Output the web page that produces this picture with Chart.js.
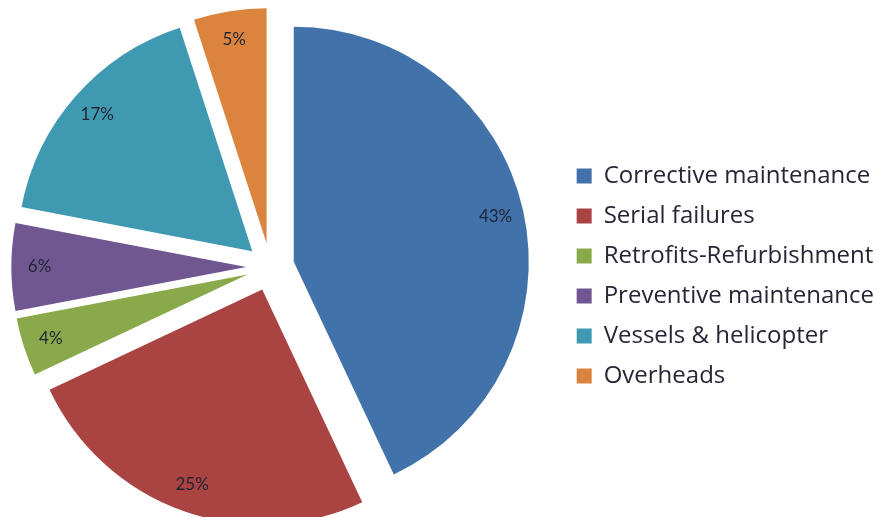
<!DOCTYPE html>
<html>
<head>
<meta charset="utf-8">
<script src="https://cdn.jsdelivr.net/npm/chart.js@4.4.1/dist/chart.umd.min.js"></script>
<style>
  html, body { margin: 0; padding: 0; background: #fff; overflow: hidden; }
  #myChart { display: block; margin-left: -20px; }
</style>
</head>
<body>
<canvas id="myChart" width="897" height="517"></canvas>
<script>
const labels = ['Corrective maintenance', 'Serial failures', 'Retrofits-Refurbishment',
    'Preventive maintenance', 'Vessels & helicopter', 'Overheads'];
const shares = [43, 25, 4, 6, 17, 5];
const colors = ['#4172a9', '#a94442', '#8aa94b', '#715792', '#3f99b0', '#db843e'];

const explode = 24;

// push every slice out from the centre along its middle angle
const ArcElement = Chart.ArcElement || Chart.elements.ArcElement;
const baseDraw = ArcElement.prototype.draw;
ArcElement.prototype.draw = function (ctx) {
    const mid = (this.startAngle + this.endAngle) / 2;
    ctx.save();
    ctx.translate(Math.cos(mid) * explode, Math.sin(mid) * explode);
    baseDraw.call(this, ctx);
    ctx.restore();
};

// percentage labels near the rim of each slice
const sliceLabels = {
    id: 'sliceLabels',
    afterDatasetsDraw(chart) {
        const ctx = chart.ctx;
        const meta = chart.getDatasetMeta(0);
        ctx.save();
        ctx.font = '17px Lato, "Open Sans", sans-serif';
        ctx.fillStyle = '#1f2433';
        ctx.textAlign = 'center';
        ctx.textBaseline = 'middle';
        meta.data.forEach(function (arc, i) {
            const p = arc.getProps(['x', 'y', 'startAngle', 'endAngle', 'outerRadius'], true);
            const mid = (p.startAngle + p.endAngle) / 2;
            const r = explode + p.outerRadius * 0.88;
            ctx.fillText(shares[i] + '%', p.x + Math.cos(mid) * r, p.y + Math.sin(mid) * r);
        });
        ctx.restore();
    }
};

new Chart(document.getElementById('myChart').getContext('2d'), {
    type: 'pie',
    data: {
        labels: labels,
        datasets: [{
            data: shares,
            backgroundColor: colors,
            borderWidth: 0
        }]
    },
    options: {
        responsive: false,
        animation: false,
        radius: 235,
        layout: {
            padding: { left: 0, right: -7, top: 17, bottom: 0 }
        },
        plugins: {
            tooltip: { enabled: false },
            legend: {
                position: 'right',
                // empty title only nudges the entries down a little
                title: { display: true, text: ' ', color: 'rgba(0,0,0,0)',
                    font: { size: 10 }, padding: 3 },
                labels: {
                    boxWidth: 15,
                    boxHeight: 15,
                    padding: 16,
                    color: '#262636',
                    font: { family: '"Open Sans"', size: 24 }
                }
            }
        }
    },
    plugins: [sliceLabels]
});
</script>
</body>
</html>
